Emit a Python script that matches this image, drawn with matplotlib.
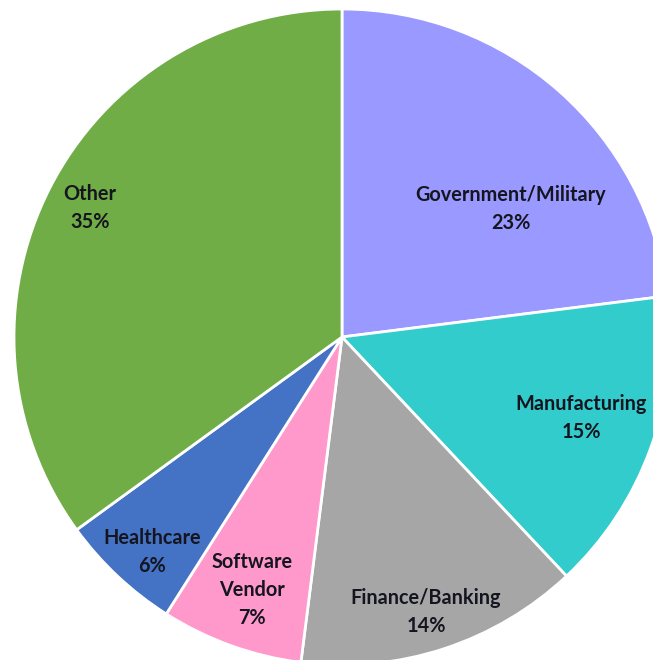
import matplotlib.pyplot as plt

sectors = ['Government/Military', 'Manufacturing', 'Finance/Banking',
           'Software\nVendor', 'Healthcare', 'Other']
shares = [23, 15, 14, 7, 6, 35]
colors = ['#9999FF', '#33CCCC', '#A6A6A6', '#FF99CC', '#4472C4', '#70AD47']
# label spots (pie radius = 1)
label_xy = [(0.515, 0.39), (0.729, -0.247), (0.256, -0.838),
            (-0.274, -0.771), (-0.579, -0.655), (-0.768, 0.393)]

fig = plt.figure(figsize=(6.53, 6.60), dpi=100)
ax = fig.add_axes([0, 0, 1, 1])
ax.pie(shares, colors=colors, startangle=90, counterclock=False, radius=1,
       wedgeprops=dict(edgecolor='white', linewidth=2))
for name, val, (x, y) in zip(sectors, shares, label_xy):
    ax.text(x, y, f'{name}\n{val}%', ha='center', va='center', fontsize=14.3,
            fontfamily='Lato', fontweight='bold', color='#15151f', linespacing=1.5)

ax.set_xlim(-342 / 328, 311 / 328)
ax.set_ylim(-323 / 328, 337 / 328)
ax.set_aspect('auto')
ax.axis('off')
fig.savefig('out.png', dpi=100)
